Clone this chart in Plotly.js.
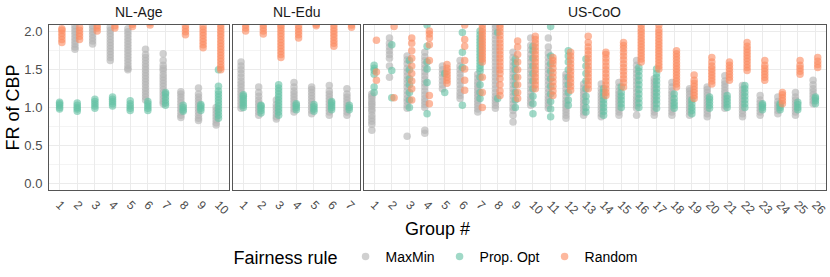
<!DOCTYPE html>
<html><head><meta charset="utf-8">
<script src="https://cdn.plot.ly/plotly-3.0.1.min.js"></script>
<style>html,body{margin:0;padding:0;background:#fff}#chart{width:830px;height:277px}</style>
</head><body><div id="chart"></div>
<script>
// ---- data ----
const facets = ["NL-Age", "NL-Edu", "US-CoO"];
const rules = ["MaxMin", "Prop. Opt", "Random"];
const ruleColors = ["#B3B3B3", "#66C2A5", "#FC8D62"];

const ageGroups = ["1","2","3","4","5","6","7","8","9","10"];
const eduGroups = ["1","2","3","4","5","6","7"];
const cooGroups = ["1","2","3","4","5","6","7","8","9","10","11","12","13","14","15","16","17","18","19","20","21","22","23","24","25","26"];

const ageMaxMin = [
  [],
  [1.77,1.8,1.84,1.88,1.92,1.96,2.0,2.04,2.08],
  [1.84,1.88,1.92,1.96,2.0,2.04,2.08],
  [1.62,1.66,1.7,1.74,1.78,1.82,1.86,1.9,1.94,1.98,2.02,2.06],
  [1.5,1.52,1.56,1.6,1.64,1.68,1.72,1.76,1.8,1.84,1.88,1.92,1.96,2.0,2.04],
  [1.1,1.14,1.18,1.22,1.26,1.3,1.34,1.38,1.42,1.46,1.5,1.54,1.58,1.62,1.66,1.7,1.77],
  [1.05,1.08,1.12,1.16,1.2,1.24,1.28,1.32,1.36,1.4,1.44,1.49,1.52,1.56,1.62,1.71],
  [0.87,0.9,0.94,0.98,1.02,1.06,1.1,1.14,1.18,1.21],
  [0.83,0.86,0.9,0.94,0.98,1.02,1.06,1.1,1.14,1.18,1.26],
  [0.77,0.8,0.84,0.88,0.92,0.96,1.0]
];
const ageProp = [
  [0.98,1.0,1.03,1.05,1.07],
  [0.95,0.98,1.0,1.03,1.06],
  [0.99,1.02,1.05,1.08,1.11],
  [1.02,1.05,1.08,1.11,1.14],
  [0.96,0.99,1.02,1.05,1.09],
  [0.96,0.99,1.02,1.05,1.08],
  [1.03,1.06,1.1,1.14,1.18,1.2],
  [0.95,0.97,1.0,1.03],
  [0.96,0.99,1.02,1.04],
  [0.86,0.9,0.94,0.98,1.02,1.06,1.1,1.14,1.18,1.22,1.28,1.5]
];
const ageRandom = [
  [1.86,1.9,1.94,1.98,2.02,2.04],
  [1.9,1.94,1.98,2.02,2.06],
  [2.01,2.05,2.08],
  [2.05,2.08],
  [2.07,2.1],
  [2.09,2.12],
  [],
  [1.96,2.0,2.04,2.08],
  [1.79,1.83,1.87,1.91,1.95,1.99,2.03,2.07],
  [1.5,1.53,1.57,1.61,1.65,1.69,1.73,1.77,1.81,1.85,1.89,1.93,1.97,2.01,2.05,2.09]
];

const eduMaxMin = [
  [0.99,1.03,1.07,1.11,1.15,1.19,1.23,1.27,1.31,1.35,1.4,1.45,1.5,1.55,1.6],
  [0.9,0.94,0.98,1.02,1.06,1.1,1.15,1.2,1.27],
  [0.85,0.88,0.92,0.96,1.0,1.04,1.1],
  [0.94,0.98,1.02,1.06,1.1,1.14,1.18,1.22,1.27,1.33],
  [0.92,0.96,1.0,1.04,1.08,1.12,1.16,1.2,1.24,1.27],
  [0.9,0.94,0.98,1.02,1.06,1.1,1.14,1.18,1.22,1.29],
  [0.9,0.94,0.98,1.02,1.06,1.1,1.14,1.18,1.25]
];
const eduProp = [
  [1.0,1.03,1.06,1.09,1.12,1.15,1.17],
  [0.93,0.96,0.99,1.02,1.03],
  [0.9,0.94,0.98,1.02,1.06,1.1,1.14,1.18,1.22,1.26,1.3],
  [0.97,1.0,1.03,1.05],
  [0.95,0.98,1.01,1.04],
  [0.97,1.0,1.03,1.06,1.08],
  [0.97,1.0,1.03]
];
const eduRandom = [
  [2.01,2.05,2.09],
  [1.97,2.01,2.05,2.09],
  [1.66,1.7,1.74,1.78,1.82,1.86,1.9,1.94,1.98,2.02,2.06,2.09],
  [1.92,1.96,2.0,2.04,2.08],
  [2.08,2.1],
  [1.81,1.85,1.89,1.93,1.97,2.01,2.05,2.09],
  [2.06,2.09]
];

const cooMaxMin = [
  [0.7,0.78,0.82,0.86,0.9,0.95,0.98,1.02,1.05,1.08,1.12,1.15,1.18],
  [1.4,1.55,1.65,1.7,1.75,1.8,1.85,1.92],
  [0.62,0.99,1.03,1.08,1.12,1.17,1.22,1.27,1.32,1.37,1.42,1.47,1.52,1.58,1.63,1.68],
  [0.66,0.7,1.0,1.04,1.08,1.12,1.17,1.22,1.27,1.32,1.37,1.42,1.47,1.52,1.57,1.62,1.67,1.73],
  [1.25,1.3,1.35,1.4,1.45,1.5,1.55],
  [1.12,1.16,1.2,1.25,1.3,1.35,1.4,1.45,1.5,1.55,1.62],
  [0.94,0.98,1.02,1.06,1.1,1.14,1.18,1.22,1.26,1.3,1.34,1.39,1.44],
  [0.99,1.03,1.07,1.11,1.15,1.2,1.25,1.3,1.35,1.4,1.45,1.5,1.55,1.6,1.65,1.7,1.75,1.8,1.85,1.9,1.95,2.0,2.05,2.09],
  [0.81,0.9,0.96,1.0,1.05,1.1,1.15,1.2,1.25,1.3,1.35,1.4,1.45,1.5,1.55,1.6,1.66,1.73],
  [1.03,1.07,1.11,1.15,1.2,1.25,1.3,1.35,1.4,1.45,1.5,1.55,1.6,1.65,1.7,1.76,1.82,1.92],
  [0.99,1.03,1.07,1.11,1.15,1.2,1.25,1.3,1.35,1.4,1.45,1.5,1.55,1.6,1.66,1.72,1.8,1.92],
  [0.86,0.9,0.94,0.98,1.02,1.06,1.1,1.15,1.2,1.25,1.3,1.35,1.4,1.44],
  [0.9,0.94,0.98,1.02,1.06,1.1,1.14,1.18,1.22,1.26,1.31],
  [0.88,0.92,0.96,1.0,1.04,1.08,1.12,1.16,1.2,1.25,1.31],
  [0.9,0.94,0.98,1.02,1.06,1.1,1.14,1.18,1.22,1.27,1.33],
  [0.9,0.99,1.03,1.07,1.11,1.15,1.2,1.25,1.3,1.35,1.4,1.45,1.5,1.56,1.62],
  [0.9,0.94,0.98,1.02,1.06,1.1,1.14,1.18,1.22,1.26,1.3,1.34,1.38],
  [0.9,0.94,0.98,1.02,1.06,1.1,1.14,1.18,1.22,1.27,1.33],
  [0.9,0.94,0.98,1.02,1.06,1.1,1.14,1.18,1.22,1.25],
  [0.88,0.92,0.96,1.0,1.04,1.08,1.12,1.16,1.2,1.24,1.27],
  [0.99,1.03,1.07,1.11,1.15,1.19,1.23,1.27,1.31,1.35,1.42],
  [0.88,0.92,0.96,1.0,1.04,1.08,1.12,1.16,1.2,1.24,1.29],
  [0.9,0.94,0.98,1.02,1.06,1.1,1.16],
  [0.92,0.96,1.0,1.04,1.08,1.14],
  [0.9,0.94,0.98,1.02,1.06,1.1,1.14,1.2],
  [1.05,1.09,1.13,1.17,1.21,1.25,1.3,1.36]
];
const cooProp = [
  [1.2,1.27,1.44,1.49,1.52,1.56],
  [1.13,1.49,1.83],
  [1.0,1.1,1.2,1.3,1.38,1.5,1.62],
  [0.92,1.33,1.51,1.6,1.81,2.09],
  [1.2,1.45],
  [1.03,1.53,1.73,1.99],
  [1.12,1.2,1.3,1.4,1.48,1.52,1.56,1.6,1.64,1.68,1.72,1.76,1.8,1.84,1.88,1.92,1.96,2.01],
  [1.12,1.99],
  [1.0,1.1,1.2,1.3,1.4,1.5,1.58,1.64],
  [0.92,1.05,1.15,1.25,1.35,1.45,1.55,1.65,1.75,1.81],
  [0.88,0.98,1.08,1.18,1.28,1.38,1.48,1.58,1.68,2.07],
  [1.03,1.1,1.2,1.3,1.4,1.5,1.6,1.68,1.75],
  [0.94,1.0,1.08,1.15,1.25,1.35,1.45,1.55,1.64],
  [0.9,0.95,1.0,1.05,1.1,1.15,1.2,1.25],
  [1.0,1.05,1.1,1.15,1.2,1.27],
  [1.0,1.06,1.12,1.18,1.24,1.3,1.36,1.42,1.48,1.53],
  [0.99,1.05,1.1,1.15,1.2,1.25,1.3,1.35,1.4,1.45,1.51],
  [0.99,1.03,1.07,1.12,1.18],
  [0.92,0.96,1.0,1.05,1.1],
  [0.99,1.03,1.07,1.11,1.14],
  [1.0,1.04,1.08,1.12,1.16],
  [1.0,1.05,1.1,1.15,1.2,1.25,1.29],
  [0.97,1.0,1.03,1.05],
  [0.97,1.0,1.03,1.05],
  [0.97,1.0,1.04,1.07],
  [1.05,1.09,1.12,1.14]
];
const cooRandom = [
  [1.36,1.47,1.89],
  [1.13,2.07],
  [1.1,1.25,1.35,1.45,1.55,1.65,1.75,1.85,1.92],
  [1.05,1.16,1.62,1.83,1.92,1.97,2.01],
  [1.32,1.36,1.4,1.44,1.48,1.52,1.57],
  [1.23,1.36,1.51,1.62,1.81,1.9,2.09],
  [1.0,1.2,1.4,1.6,1.64,1.68,1.72,1.76,1.8,1.84,1.88,1.92,1.96,2.0,2.04,2.09],
  [1.16,1.22,1.3,1.38,1.45,1.5,1.55,1.6,1.65,1.7,1.75,1.8,1.85,1.9,1.95,2.0,2.05,2.09],
  [1.12,1.2,1.3,1.4,1.5,1.6,1.7,1.8,1.88],
  [1.25,1.3,1.35,1.4,1.45,1.5,1.55,1.6,1.65,1.7,1.75,1.8,1.85,1.9,1.94],
  [1.16,1.22,1.28,1.34,1.4,1.46,1.52,1.58,1.62,1.66],
  [1.23,1.28,1.33,1.38,1.43,1.48,1.53,1.58,1.63,1.68,1.73],
  [1.25,1.3,1.35,1.4,1.45,1.5,1.55,1.6,1.65,1.7,1.75,1.8,1.86,1.94],
  [1.16,1.2,1.25,1.3,1.35,1.4,1.45,1.5,1.55,1.6,1.65,1.7,1.73],
  [1.27,1.33,1.38,1.43,1.48,1.53,1.58,1.63,1.68,1.73,1.78,1.82,1.86],
  [1.6,1.64,1.68,1.72,1.76,1.8,1.84,1.88,1.92,1.96,2.0,2.04,2.09],
  [1.51,1.55,1.59,1.63,1.67,1.71,1.75,1.79,1.83,1.87,1.91,1.95,1.99,2.03,2.09],
  [1.27,1.31,1.35,1.39,1.43,1.47,1.51,1.55,1.59,1.63,1.67,1.71,1.75],
  [1.12,1.16,1.2,1.24,1.28,1.32,1.36,1.43],
  [1.31,1.35,1.39,1.43,1.47,1.51,1.55,1.6,1.66],
  [1.36,1.4,1.44,1.48,1.52,1.56,1.6],
  [1.49,1.53,1.57,1.61,1.65,1.69,1.73,1.77,1.81,1.86],
  [1.36,1.4,1.44,1.48,1.52,1.56,1.62],
  [1.05,1.09,1.13,1.17,1.2],
  [1.44,1.48,1.52,1.56,1.62],
  [1.53,1.57,1.61,1.66]
];

// ---- build ----
const facetData = [
  {groups: ageGroups, series: [ageMaxMin, ageProp, ageRandom]},
  {groups: eduGroups, series: [eduMaxMin, eduProp, eduRandom]},
  {groups: cooGroups, series: [cooMaxMin, cooProp, cooRandom]}
];
const dodge = [-0.13, 0, 0.13];

const W = 830, H = 277;
const margin = {l: 49, r: 4, t: 25, b: 86};
const plotW = W - margin.l - margin.r;
const plotH = H - margin.t - margin.b;
const gapPx = 3.7;
const units = facetData.map(f => f.groups.length + 0.2);
const unitPx = (plotW - gapPx * (facetData.length - 1)) / units.reduce((a, b) => a + b, 0);

const traces = [];
const layout = {
  width: W, height: H, margin: margin,
  paper_bgcolor: "#ffffff", plot_bgcolor: "#ffffff",
  font: {family: "Liberation Sans, Arial, sans-serif", color: "#000"},
  showlegend: true,
  legend: {
    orientation: "h", x: 0.5, xanchor: "center", xref: "paper",
    y: (0 - (258 - (margin.t + plotH))) / plotH, yanchor: "middle",
    title: {text: "Fairness rule", side: "left", font: {size: 18, color: "#000"}},
    font: {size: 14, color: "#000"}, itemwidth: 30, bgcolor: "rgba(0,0,0,0)"
  },
  annotations: [],
  hovermode: false
};

let startPx = 0;
facetData.forEach((f, fi) => {
  const n = f.groups.length;
  const wPx = units[fi] * unitPx;
  const d0 = startPx / plotW, d1 = (startPx + wPx) / plotW;
  startPx += wPx + gapPx;
  const xName = fi === 0 ? "x" : "x" + (fi + 1);
  const yName = fi === 0 ? "y" : "y" + (fi + 1);
  const xKey = fi === 0 ? "xaxis" : "xaxis" + (fi + 1);
  const yKey = fi === 0 ? "yaxis" : "yaxis" + (fi + 1);
  layout[xKey] = {
    domain: [d0, Math.min(d1, 1)], anchor: yName, type: "linear",
    range: [0.4, n + 0.6], tickmode: "array",
    tickvals: f.groups.map((g, i) => i + 1), ticktext: f.groups,
    tickangle: 45, tickfont: {size: 12, color: "#4d4d4d"},
    ticks: "outside", ticklen: 2, tickcolor: "rgba(0,0,0,0)",
    showgrid: true, gridcolor: "#ebebeb", gridwidth: 1, zeroline: false,
    showline: true, mirror: true, linecolor: "#555555", linewidth: 1, fixedrange: true
  };
  layout[yKey] = {
    domain: [0, 1], anchor: xName, range: [-0.088, 2.09],
    tickmode: "linear", tick0: 0, dtick: 0.5, tickformat: ".1f",
    showticklabels: fi === 0, tickfont: {size: 13, color: "#4d4d4d"},
    ticks: "outside", ticklen: 3, tickcolor: "rgba(0,0,0,0)",
    showgrid: true, gridcolor: "#ebebeb", gridwidth: 1, zeroline: false,
    minor: {dtick: 0.25, tick0: 0, showgrid: true, gridcolor: "#f4f4f4", gridwidth: 1},
    showline: true, mirror: true, linecolor: "#555555", linewidth: 1, fixedrange: true
  };
  layout.annotations.push({
    text: facets[fi], xref: "paper", yref: "paper",
    x: (d0 + Math.min(d1, 1)) / 2, y: 1, xanchor: "center", yanchor: "middle",
    yshift: 13, showarrow: false, font: {size: 14, color: "#1a1a1a"}
  });
  rules.forEach((r, ri) => {
    const xs = [], ys = [];
    f.series[ri].forEach((vals, gi) => {
      vals.forEach(v => { xs.push(gi + 1 + dodge[ri]); ys.push(v); });
    });
    traces.push({
      type: "scatter", mode: "markers", x: xs, y: ys,
      xaxis: xName, yaxis: yName, name: r, legendgroup: r,
      showlegend: fi === 0, cliponaxis: true,
      marker: {color: ruleColors[ri], size: 7.5, opacity: 0.62, line: {width: 0}}
    });
  });
});

layout.annotations.push({
  text: "FR of CBP", xref: "paper", yref: "paper",
  x: (12 - margin.l) / plotW, y: 0.5, xanchor: "center", yanchor: "middle",
  textangle: -90, showarrow: false, font: {size: 18, color: "#000"}
});
layout.annotations.push({
  text: "Group #", xref: "paper", yref: "paper",
  x: 0.5, y: -(230 - (margin.t + plotH)) / plotH, xanchor: "center", yanchor: "middle",
  showarrow: false, font: {size: 18, color: "#000"}
});

Plotly.newPlot("chart", traces, layout, {displayModeBar: false, staticPlot: true});
</script>
</body></html>
